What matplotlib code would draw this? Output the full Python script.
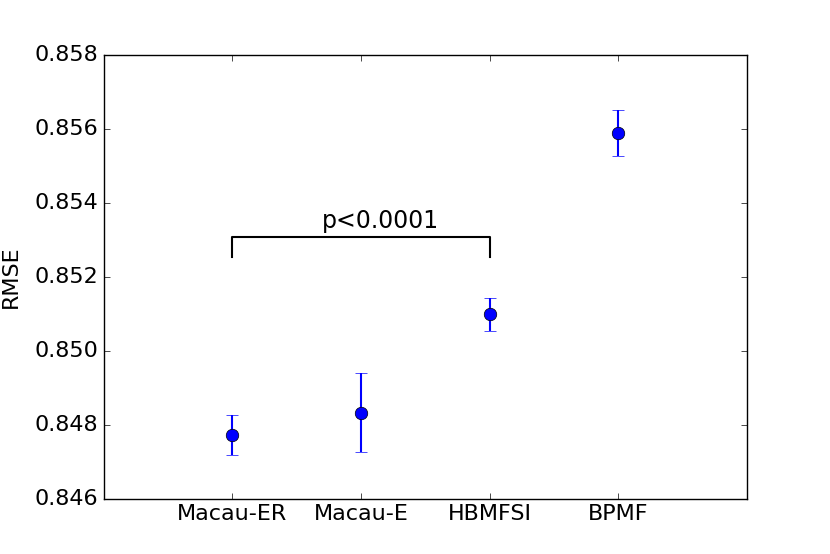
import numpy as np
import matplotlib
matplotlib.use('Agg')
import matplotlib.pyplot as plt

plt.style.use('classic')

methods = ['Macau-ER', 'Macau-E', 'HBMFSI', 'BPMF']
rmse = [0.84772, 0.84833, 0.85099, 0.85589]
err = [0.00053, 0.00107, 0.00045, 0.00062]

x = np.arange(1, len(methods) + 1)

fig = plt.figure(figsize=(8.3, 5.54), dpi=100, facecolor='white')
ax = fig.add_subplot(111)
fig.subplots_adjust(left=0.125, right=0.9, bottom=0.1, top=0.9)

ax.errorbar(x, rmse, yerr=err, fmt='o', color='blue', ecolor='blue',
            markersize=9, capsize=4, elinewidth=1.5, markeredgecolor='black')

# bracket between Macau-ER and HBMFSI
ax.plot([1, 1, 3, 3], [0.85254, 0.85308, 0.85308, 0.85254], 'k-', linewidth=1.5)
ax.text(2.15, 0.85318, 'p<0.0001', ha='center', va='bottom', fontsize=17)

ax.set_xlim(0, 5)
ax.set_ylim(0.846, 0.858)
ax.set_xticks(x)
ax.set_xticklabels(methods, fontsize=16)
ax.set_yticks(np.arange(0.846, 0.8581, 0.002))
ax.set_yticklabels(['%.3f' % v for v in np.arange(0.846, 0.8581, 0.002)], fontsize=16)
ax.set_ylabel('RMSE', fontsize=16, labelpad=10)

plt.savefig('out.png', dpi=100, facecolor='white')
